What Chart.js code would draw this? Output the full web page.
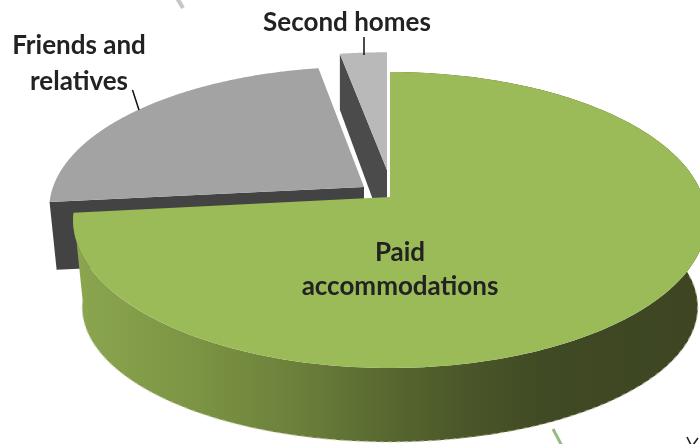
<!DOCTYPE html>
<html><head><meta charset="utf-8">
<style>html,body{margin:0;padding:0;background:#fff}canvas{display:block}</style>
<script src="https://cdn.jsdelivr.net/npm/chart.js@4/dist/chart.umd.min.js"></script>
</head><body><div style="width:700px;height:444px"><canvas id="c" width="700" height="444"></canvas></div>
<script>
const categories = [["Paid","accommodations"],["Friends and","relatives"],["Second homes"]];
const shares = [73.3, 24.0, 2.7];
const sliceColours = ["#9bbb59","#a3a3a3","#b9b9b9"];
const cutColours = [null,"#434343","#4b4b4b"];

const K = 0.1554;
const geom = [
  {top:{x:390,y:197,A:313,B:144.4}, bot:{x:390,y:286,A:304,B:131.7}},
  {top:{x:364,y:187,A:311,B:139},   bot:{x:364,y:255.5,A:304,B:131.7}},
  {top:{x:387,y:170,A:322,B:136},   bot:{x:387,y:238,A:322,B:150}}
];
const labelPos = [[400,253,34],[79,46,36],[347,23,0]];
function proj(g,t){const u=Math.cos(t),v=Math.sin(t),w=1-K*v;return [g.x+g.A*u/w,g.y+g.B*v/w];}
function arcPts(g,a,b){const n=240,p=[];for(let i=0;i<=n;i++)p.push(proj(g,a+(b-a)*i/n));return p;}
function poly(ctx,pts){ctx.beginPath();pts.forEach((p,i)=>i?ctx.lineTo(p[0],p[1]):ctx.moveTo(p[0],p[1]));ctx.closePath();}

const pie3d = {
  id:'pie3d',
  beforeDatasetsDraw(chart){
    const ctx=chart.ctx, arcs=chart.getDatasetMeta(0).data;
    ctx.save();
    ctx.fillStyle='#fff';ctx.fillRect(0,0,700,444);
    // stray fragments at the page edges
    ctx.lineCap='butt';
    ctx.strokeStyle='#c3c8c1';ctx.lineWidth=4;ctx.beginPath();ctx.moveTo(177,-2);ctx.lineTo(183,8);ctx.stroke();
    ctx.strokeStyle='#93bd84';ctx.lineWidth=3;ctx.beginPath();ctx.moveTo(553,429);ctx.lineTo(562,446);ctx.stroke();
    ctx.strokeStyle='#222';ctx.lineWidth=1.6;ctx.beginPath();ctx.moveTo(687,437);ctx.lineTo(691,445);ctx.moveTo(698,438);ctx.lineTo(693,445);ctx.stroke();
    // far slices: cut faces then top faces
    [2,1].forEach(i=>{
      const g=geom[i], a=arcs[i];
      const pT=proj(g.top,a.startAngle), pB=proj(g.bot,a.startAngle);
      ctx.fillStyle=cutColours[i];
      poly(ctx,[pT,[g.top.x,g.top.y],[g.bot.x,g.bot.y],pB]);ctx.fill();
      ctx.fillStyle=sliceColours[i];
      poly(ctx,[[g.top.x,g.top.y],...arcPts(g.top,a.startAngle,a.endAngle)]);ctx.fill();
    });
    // large slice: rim, pale fringe, then top
    const g=geom[0], a=arcs[0];
    const grad=ctx.createLinearGradient(75,0,700,0);
    [[0,'#8ba64f'],[0.2,'#7b9343'],[0.36,'#6b7f3a'],[0.5,'#586830'],[0.62,'#4b5729'],[0.75,'#404a24'],[1,'#3d4522']].forEach(s=>grad.addColorStop(s[0],s[1]));
    const topArc=arcPts(g.top,a.startAngle,a.endAngle), botArc=arcPts(g.bot,a.startAngle,a.endAngle);
    ctx.fillStyle=grad;poly(ctx,[...topArc,...botArc.slice().reverse()]);ctx.fill();
    ctx.strokeStyle='rgba(200,200,170,0.6)';ctx.lineWidth=1.5;ctx.setLineDash([4,4]);
    ctx.beginPath();
    botArc.forEach((p,i)=>i?ctx.lineTo(p[0],p[1]):ctx.moveTo(p[0],p[1]));
    ctx.stroke();ctx.setLineDash([]);
    ctx.fillStyle=sliceColours[0];
    poly(ctx,[[g.top.x,g.top.y],...topArc]);ctx.fill();
    // leader lines
    ctx.strokeStyle='#111';ctx.lineWidth=1.5;
    ctx.beginPath();ctx.moveTo(364,37);ctx.lineTo(364,55);ctx.moveTo(132.5,90);ctx.lineTo(139,110);ctx.stroke();
    // labels
    ctx.fillStyle='#222';ctx.font='700 26px Lato, sans-serif';ctx.textAlign='center';ctx.textBaseline='middle';
    chart.data.labels.forEach((lines,i)=>{
      const [x,y,dy]=labelPos[i];
      lines.forEach((t,j)=>ctx.fillText(t,x,y+j*dy));
    });
    ctx.restore();
    return false;
  }
};

new Chart(document.getElementById('c'),{
  type:'pie',
  data:{labels:categories,datasets:[{data:shares,backgroundColor:sliceColours,borderWidth:0}]},
  options:{responsive:false,animation:false,plugins:{legend:{display:false},tooltip:{enabled:false}}},
  plugins:[pie3d]
});
</script></body></html>
